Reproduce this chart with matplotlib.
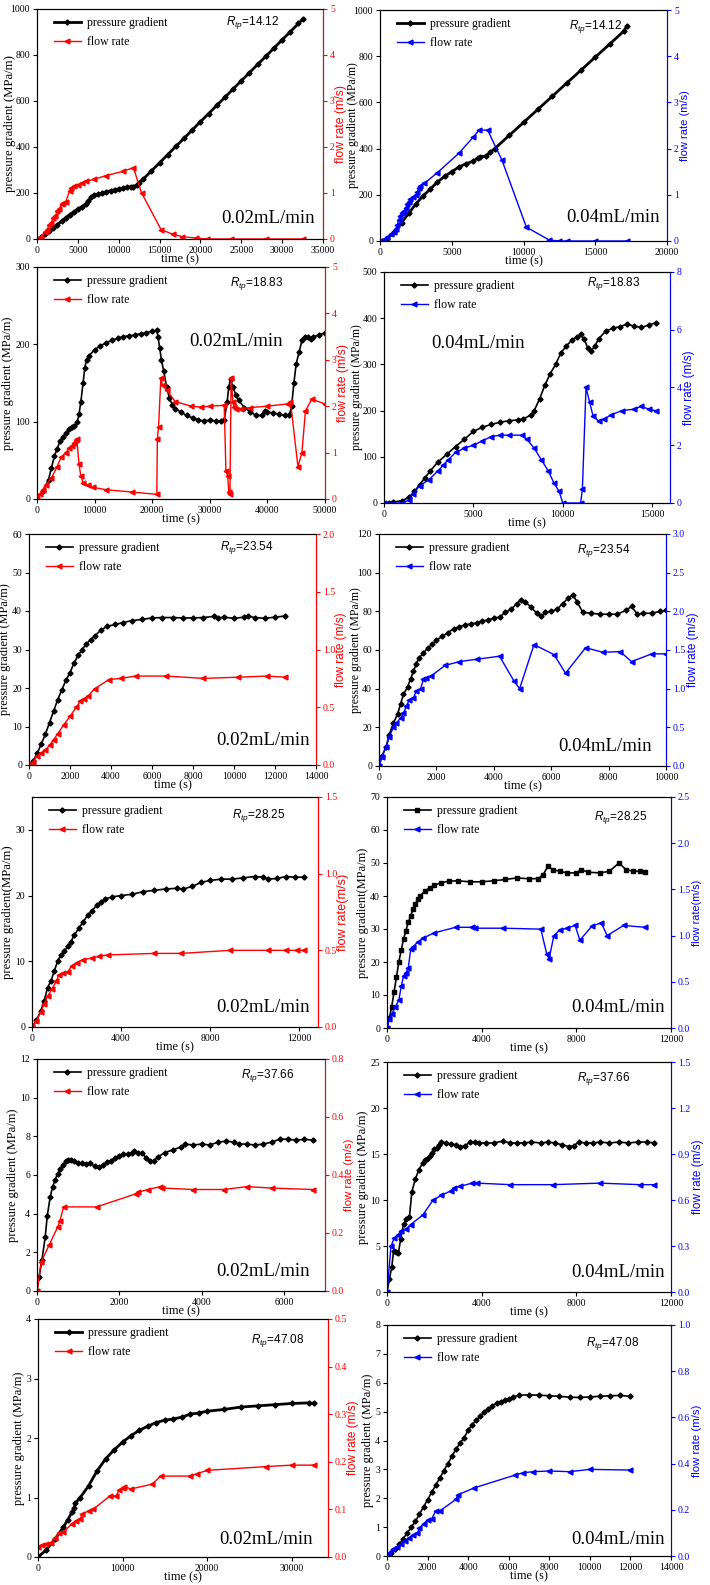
import matplotlib
matplotlib.use("Agg")
import matplotlib.pyplot as plt
from matplotlib.ticker import MultipleLocator, FormatStrFormatter

plt.rcParams['font.family'] = ['Liberation Serif', 'DejaVu Serif']
plt.rcParams['mathtext.fontset'] = 'custom'
plt.rcParams['mathtext.it'] = 'Liberation Sans:italic'
plt.rcParams['mathtext.rm'] = 'Liberation Sans'

# ---- data (time in s, pressure gradient MPa/m, flow rate m/s)
# Rtp = 14.12
t_p1 = [0,500,1000,1500,2000,2500,3000,3500,4000,4500,5000,5500,6000,6300,6600,7000,7500,8000,8500,9000,9500,10000,10500,11000,11500,11800,12200,12500,13000,
        14000,15000,16000,17000,18000,19000,20000,21000,22000,23000,24000,25000,26000,27000,28000,29000,30000,31000,32000,32500]
p1 = [0,8,20,35,50,62,78,92,106,118,130,140,152,165,182,190,195,200,205,210,214,218,221,225,227,228,235,245,260,
      296,331,367,403,438,474,510,545,581,616,652,688,723,759,794,830,866,901,937,955]
t_f1 = [0,500,1000,1200,1500,1700,2000,2200,2500,2700,3000,3200,3500,4000,4200,4500,5000,5500,6000,7000,8500,10500,11800,12800,15200,16700,17800,19500,20800,23700,28000,32500]
f1 = [0,0.05,0.15,0.2,0.3,0.35,0.45,0.5,0.6,0.65,0.75,0.78,0.8,1.05,1.1,1.15,1.18,1.22,1.25,1.3,1.38,1.47,1.55,1.0,0.2,0.1,0.05,0.02,0,0,0,0]
t_p2 = [0,500,1000,1500,2000,2500,3000,3500,4000,4500,5000,5500,6000,6500,6800,7000,7400,7700,8000,9000,10000,11000,12000,13000,14000,15000,16000,17000,17200]
p2 = [0,10,40,80,120,160,195,225,255,280,300,320,335,345,360,365,368,385,400,457,513,570,626,683,739,796,852,909,930]
t_f2 = [0,200,500,800,1000,1100,1200,1300,1400,1500,1600,1700,1800,1900,2000,2100,2300,2500,2600,2700,2800,3100,4000,5500,6500,6900,7500,8500,10200,11800,12500,13000,15000,17200]
f2 = [0,0.02,0.08,0.15,0.2,0.25,0.35,0.45,0.55,0.6,0.62,0.65,0.72,0.8,0.85,0.9,0.95,1.0,1.05,1.15,1.2,1.25,1.48,1.9,2.25,2.4,2.4,1.75,0.3,0.02,0,0,0,0]

# Rtp = 18.83
t_p3 = [0,1000,2000,2500,3000,3500,4000,4500,5000,5500,6000,6500,7000,7300,7600,8000,8300,8600,9000,10000,
        11000,12000,13000,14000,15000,16000,17000,18000,19000,20000,20800,21000,21300,21600,22000,22500,23000,23500,24000,25000,
        26000,27000,28000,29000,30000,31000,32000,32500,33000,33300,33600,34000,34500,35000,36000,37000,38000,39000,39500,40000,
        41000,42000,43000,43800,44200,44600,45000,45500,46000,46500,47000,47500,48000,49000,50000]
p3 = [0,10,25,40,55,65,75,80,85,90,93,95,100,110,125,150,170,180,185,193,
      198,202,205,208,210,211,212,214,215,217,218,210,195,180,165,145,130,122,117,112,
      108,105,102,101,102,101,101,102,125,145,155,145,135,128,118,113,108,108,114,113,
      111,110,108,108,120,150,175,190,205,210,210,207,210,212,215]
t_f3 = [0,500,1000,1500,2500,3500,4200,5000,5600,6000,6500,6700,6900,7300,7600,8000,8800,9800,12000,16500,
        20800,20900,21100,21500,21800,22500,24000,26800,28500,30000,32500,32800,33100,33300,33500,33700,34000,34200,34500,35500,
        37000,40000,43500,44000,45300,46000,46600,47700,50000]
f3 = [0,0.1,0.2,0.3,0.45,0.7,0.9,1.0,1.1,1.15,1.2,1.28,1.3,0.75,0.5,0.35,0.3,0.25,0.2,0.15,
      0.1,1.3,1.55,2.6,2.45,2.35,2.1,2.0,1.98,2.0,2.02,0.6,0.5,0.15,0.1,2.6,2.1,1.98,1.95,1.95,
      1.97,2.0,2.05,2.1,0.7,1.0,1.9,2.15,2.05]
t_p4 = [0,300,500,1000,1400,1700,2000,2300,2600,3000,3500,4000,4500,5000,5500,6000,6500,7000,7500,
        7800,8200,8400,8700,9000,9300,9600,9900,10200,10500,10800,11000,11200,11400,11600,11800,12000,12400,12800,13200,
        13600,14000,14400,14800,15200]
p4 = [0,0,2,5,12,25,40,55,70,88,105,122,138,155,164,170,175,178,180,
      182,190,200,225,255,280,300,325,340,352,360,365,355,335,330,340,355,372,378,382,
      387,383,380,385,390]
t_f4 = [0,1000,1400,1600,2000,2500,3000,3300,3600,4000,4500,5000,5500,6000,6500,7000,7700,8000,8400,8800,
        9200,9500,9800,10000,11000,11100,11300,11500,11700,12000,12300,12700,13300,14000,14400,14800,15200]
f4 = [0,0,0.1,0.3,0.6,0.8,1.1,1.3,1.5,1.75,1.9,2.0,2.15,2.3,2.35,2.35,2.35,2.2,1.9,1.5,
      1.1,0.7,0.4,0,0,0.5,4.0,3.5,3.0,2.85,2.9,3.05,3.2,3.25,3.35,3.25,3.2]

# Rtp = 23.54
t_p5 = [0,200,400,600,800,1000,1200,1400,1600,1800,2000,2200,2400,2600,2800,3000,3200,3500,3800,4200,4600,5000,5500,6000,
        6500,7000,7500,8000,8500,9000,9200,9500,10000,10500,10700,11000,11500,12000,12500]
p5 = [0,1,3,5.5,8,11,14,17,19.5,22,24,26.5,28.5,30,31.5,32.5,33.5,35,36,36.5,37,37.5,37.8,38.2,
      38.3,38.3,38.2,38.2,38.3,38.6,38.2,38.4,38.1,38.4,38.7,38.3,38.1,38.4,38.7]
t_f5 = [0,200,400,600,800,1000,1200,1400,1700,2000,2300,2500,2700,2900,3200,3900,4500,5200,6700,8500,10200,11600,12500]
f5 = [0,0.03,0.08,0.1,0.13,0.17,0.22,0.27,0.35,0.42,0.5,0.55,0.57,0.6,0.66,0.74,0.75,0.77,0.77,0.75,0.76,0.77,0.76]
t_p6 = [0,100,250,350,500,650,750,850,1000,1100,1200,1300,1400,1550,1700,1850,2000,2200,2400,2600,
        2800,3000,3200,3400,3600,3800,4000,4200,4400,4600,4800,4950,5100,5300,5500,5650,5800,6000,6200,6400,
        6600,6750,6900,7100,7400,7700,8000,8300,8600,8800,9000,9200,9500,9800,10000]
p6 = [0,5,10,16,22,27,32,37,41,45,49,53,56,58.5,61,63,65,67,69,71,
      72,73,73.5,74,75,75.5,76.5,77,79.5,81,84,86,85,82,79,77.5,79.5,80,81,84,
      87,88.5,85,79.5,79,78.5,78.5,78.5,80.5,82.5,78.5,79,79,80,80.5]
t_f6 = [0,100,250,350,500,600,750,850,950,1050,1200,1300,1450,1550,1650,1800,2300,2800,3400,4200,
        4700,4900,5400,6100,6500,7200,7800,8400,8800,9500,10000]
f6 = [0,0.12,0.25,0.37,0.5,0.55,0.62,0.68,0.77,0.85,0.88,0.97,1.0,1.12,1.14,1.16,1.3,1.35,1.38,1.42,
      1.1,1.0,1.57,1.44,1.2,1.53,1.47,1.48,1.35,1.45,1.45]

# Rtp = 28.25
t_p7 = [0,200,400,550,700,850,1000,1150,1300,1450,1600,1750,1900,2100,2300,2500,2700,2900,3100,3300,
        3600,4000,4500,5000,5500,6000,6500,6800,7200,7600,8000,8500,9000,9500,10000,10400,10600,11000,11400,11800,12200]
p7 = [0,1,2.5,4,6,7,8.5,10,11,11.5,12.3,13,14,15,16,17,17.7,18.5,19,19.5,
      19.8,20,20.2,20.6,20.8,21,21.1,21,21.4,22,22.3,22.5,22.5,22.7,22.9,22.8,22.5,22.6,22.9,22.8,22.8]
t_f7 = [0,200,400,550,700,900,1100,1200,1400,1600,1800,2000,2300,2700,3000,3400,5500,6700,8900,10600,11400,11900,12200]
f7 = [0,0.04,0.1,0.15,0.2,0.25,0.3,0.34,0.35,0.36,0.4,0.42,0.44,0.45,0.46,0.47,0.48,0.48,0.5,0.5,0.5,0.5,0.5]
t_p8 = [0,100,200,300,400,500,600,700,800,900,1000,1100,1200,1300,1400,1600,1800,2000,2300,2600,
        3000,3500,4000,4500,5000,5500,6000,6400,6600,6800,7000,7300,7600,8000,8200,8500,9000,9400,9800,10100,10400,10700,10900]
p8 = [0,3,6.5,11,15.5,20,23.5,27,29.5,32,34,36,37.5,39,40,41.5,42.5,43.3,44,44.5,
      44.6,44.3,44.3,44.6,45,45.5,45.2,45.3,46.5,49,48,47.5,47,47,48,47.2,47,47.5,50,48,47.5,47.5,47.2]
t_f8 = [0,100,200,350,500,600,700,800,900,1000,1100,1300,1500,2000,2900,3600,3700,4900,6500,6750,
        6850,7050,7300,7600,7950,8150,8650,9050,9300,10000,10900]
f8 = [0,0.1,0.15,0.23,0.3,0.45,0.56,0.6,0.65,0.85,0.88,0.93,0.97,1.03,1.09,1.09,1.08,1.08,1.07,0.8,
      0.75,1.0,1.06,1.08,1.11,0.95,1.1,1.14,1.0,1.11,1.09]

# Rtp = 37.66
t_p9 = [0,50,120,200,250,320,380,440,500,560,620,700,760,820,900,1000,1100,1200,1300,1400,
        1500,1600,1700,1800,1900,2000,2100,2200,2300,2350,2450,2550,2650,2750,2850,2950,3100,3300,3500,3600,
        3800,4000,4200,4400,4600,4800,4900,5100,5300,5500,5700,5900,6100,6300,6500,6700]
p9 = [0,0.7,1.6,2.8,3.9,4.85,5.4,5.75,6.05,6.3,6.5,6.7,6.8,6.8,6.7,6.6,6.6,6.55,6.6,6.45,
      6.4,6.5,6.65,6.75,6.9,7.0,7.1,7.1,7.15,7.25,7.15,7.15,6.9,6.7,6.75,6.95,7.15,7.3,7.45,7.6,
      7.55,7.6,7.55,7.7,7.75,7.7,7.6,7.6,7.55,7.6,7.7,7.85,7.85,7.8,7.85,7.8]
t_f9 = [0,100,300,500,550,650,1450,2400,2450,2700,3000,3050,3800,4550,5100,5700,6700]
f9 = [0,0.1,0.16,0.22,0.24,0.29,0.29,0.335,0.34,0.35,0.36,0.355,0.35,0.35,0.36,0.355,0.35]
t_p10 = [0,100,200,280,380,480,580,700,820,950,1050,1200,1350,1500,1600,1700,1800,1900,2000,2100,
         2200,2300,2500,2700,2900,3100,3300,3500,3700,3900,4200,4500,4900,5200,5500,5800,6100,6500,6800,7100,
         7400,7700,7900,8100,8400,8700,9000,9400,9800,10200,10600,11000,11300]
p10 = [0,1.4,2.7,4.5,4.4,4.2,5.8,7.4,7.9,8.2,10.9,12.3,13.3,14,14.3,14.5,14.8,15.1,15.5,15.7,
       16,16.3,16.2,16.1,16,15.8,15.9,16.3,16.3,16.2,16.2,16.2,16.4,16.2,16.2,16.2,16.3,16.2,16.3,16.2,
       16,15.8,15.9,16.3,16.2,16.2,16.3,16.2,16.3,16.2,16.3,16.3,16.2]
t_f10 = [0,170,300,450,600,800,1000,1500,1950,2300,2700,2850,3100,3600,3800,5200,7000,9000,10700,11300]
f10 = [0,0.3,0.35,0.37,0.4,0.41,0.44,0.5,0.6,0.63,0.66,0.68,0.69,0.71,0.71,0.7,0.7,0.71,0.7,0.7]

# Rtp = 47.08
t_p11 = [0,1000,2000,3000,3500,4000,4300,4400,5000,6000,7000,8000,9000,10000,11000,12000,13000,14000,15000,16000,
         17000,18000,19000,20000,22000,24000,26000,28000,30000,32000,32700]
p11 = [0,0.12,0.3,0.5,0.62,0.75,0.83,0.9,1.0,1.2,1.45,1.65,1.8,1.93,2.04,2.13,2.2,2.26,2.3,2.32,
       2.35,2.4,2.42,2.45,2.48,2.52,2.54,2.56,2.58,2.59,2.58]
t_f11 = [0,500,1000,1500,2000,2500,3000,4000,4500,5000,5200,6000,6500,8500,9200,9600,10000,10200,11000,13500,
         14500,18000,18800,20000,27000,30000,32700]
f11 = [0.02,0.025,0.027,0.03,0.04,0.05,0.052,0.07,0.075,0.08,0.09,0.097,0.1,0.128,0.128,0.14,0.145,0.148,0.143,0.153,
       0.17,0.17,0.175,0.182,0.19,0.193,0.193]
t_p12 = [0,200,400,600,800,1000,1200,1400,1600,1800,2000,2200,2400,2600,2800,3000,3200,3400,3600,3800,
         4000,4200,4400,4600,4800,5000,5200,5400,5600,5800,6000,6200,6500,7000,7500,8000,8500,9000,9500,10000,
         10500,11000,11500,12000]
p12 = [0,0.1,0.25,0.4,0.6,0.8,1.0,1.2,1.45,1.7,1.95,2.2,2.45,2.7,2.95,3.2,3.45,3.7,3.9,4.1,
       4.35,4.55,4.7,4.85,5.0,5.1,5.2,5.3,5.35,5.4,5.45,5.5,5.57,5.58,5.57,5.55,5.53,5.5,5.49,5.51,
       5.53,5.55,5.56,5.53]
t_f12 = [0,100,300,500,700,900,1100,1300,1500,1600,1800,2000,2200,2400,2600,3400,3500,4300,6300,6700,7200,8000,9000,10000,12000]
f12 = [0,0.015,0.03,0.04,0.05,0.065,0.08,0.09,0.1,0.12,0.14,0.155,0.16,0.195,0.195,0.245,0.265,0.295,0.35,0.36,0.365,0.368,0.365,0.375,0.372]

rtp_labels = ['14.12', '14.12', '18.83', '18.83', '23.54', '23.54', '28.25', '28.25', '37.66', '37.66', '47.08', '47.08']
rates = ['0.02mL/min', '0.04mL/min'] * 6

W, H = 710, 1585
fig = plt.figure(figsize=(W / 100, H / 100), dpi=100)

# pixel boxes of the twelve plots: x1, x2, y_top, y_bottom
boxes = [(37, 323, 9, 239), (380, 667, 10, 241), (37, 325, 267, 499), (384, 670, 272, 503),
         (29, 316, 534, 765), (379, 666, 534, 766), (32, 318, 797, 1027), (387, 671, 797, 1028),
         (37, 325, 1059, 1291), (387, 671, 1062, 1292), (38, 328, 1319, 1557), (387, 671, 1325, 1556)]
lsize = [9.2, 8.5, 9, 8.5, 8.8, 8.5, 9.2, 9, 9, 9, 9, 9]
rsize = [8.8, 8, 8.8, 8.5, 8.5, 8.5, 9.2, 7.8, 8.2, 8.5, 8.5, 8.2]
# px from the axis to the right edge of the left label, where the widest tick label is above it
lcoord = [21, 21, None, 21, None, 17, None, None, None, None, None, None]

panels = [
    dict(xl=35000, xs=5000, yl=1000, ys=200, rl=5, rs=1, rf='%d', rtp=(0.66, 0.94), rt=(0.97, 0.09, 'right')),
    dict(xl=20000, xs=5000, yl=1000, ys=200, rl=5, rs=1, rf='%d', rtp=(0.66, 0.93), rt=(0.975, 0.10, 'right')),
    dict(xl=50000, xs=10000, yl=300, ys=100, rl=5, rs=1, rf='%d', rtp=(0.67, 0.93), rt=(0.53, 0.68, 'left')),
    dict(xl=16000, xs=5000, yl=500, ys=100, rl=8, rs=2, rf='%d', rtp=(0.71, 0.95), rt=(0.165, 0.69, 'left')),
    dict(xl=14000, xs=2000, yl=60, ys=10, rl=2.0, rs=0.5, rf='%.1f', rtp=(0.667, 0.94), rt=(0.98, 0.108, 'right')),
    dict(xl=10000, xs=2000, yl=120, ys=20, rl=3.0, rs=0.5, rf='%.1f', rtp=(0.69, 0.93), rt=(0.95, 0.085, 'right')),
    dict(xl=12850, xs=4000, yl=35, ys=10, rl=1.5, rs=0.5, rf='%.1f', rtp=(0.70, 0.92), rt=(0.97, 0.083, 'right')),
    dict(xl=12000, xs=4000, yl=70, ys=10, rl=2.5, rs=0.5, rf='%.1f', rtp=(0.73, 0.91), rt=(0.98, 0.087, 'right')),
    dict(xl=7000, xs=2000, yl=12, ys=2, rl=0.8, rs=0.2, rf='%.1f', rtp=(0.707, 0.93), rt=(0.948, 0.085, 'right')),
    dict(xl=12000, xs=4000, yl=25, ys=5, rl=1.5, rs=0.3, rf='%.1f', rtp=(0.67, 0.93), rt=(0.98, 0.083, 'right')),
    dict(xl=34300, xs=10000, yl=4, ys=1, rl=0.5, rs=0.1, rf='%.1f', rtp=(0.733, 0.91), rt=(0.948, 0.073, 'right')),
    dict(xl=14000, xs=2000, yl=8, ys=1, rl=1.0, rs=0.2, rf='%.1f', rtp=(0.70, 0.92), rt=(0.98, 0.072, 'right')),
]

series = [(t_p1, p1, t_f1, f1), (t_p2, p2, t_f2, f2), (t_p3, p3, t_f3, f3), (t_p4, p4, t_f4, f4),
          (t_p5, p5, t_f5, f5), (t_p6, p6, t_f6, f6), (t_p7, p7, t_f7, f7), (t_p8, p8, t_f8, f8),
          (t_p9, p9, t_f9, f9), (t_p10, p10, t_f10, f10), (t_p11, p11, t_f11, f11), (t_p12, p12, t_f12, f12)]

for i, (cfg, (tp, p, tf, f)) in enumerate(zip(panels, series)):
    col = '#ff0000' if i % 2 == 0 else '#0000ff'
    x1, x2, y1, y2 = boxes[i]
    ax = fig.add_axes([x1 / W, 1 - y2 / H, (x2 - x1) / W, (y2 - y1) / H])
    ax2 = ax.twinx()
    lw_p = 2.0 if i < 2 or i == 10 else 1.2
    mk = 's' if i == 7 else 'D'
    l1, = ax.plot(tp, p, color='black', marker=mk, markersize=2.6, lw=lw_p)
    l2, = ax2.plot(tf, f, color=col, marker='<', markersize=3.5, lw=1.0)

    ax.set_xlim(0, cfg['xl'])
    ax.set_ylim(0, cfg['yl'])
    ax2.set_ylim(0, cfg['rl'])
    ax.xaxis.set_major_locator(MultipleLocator(cfg['xs']))
    ax.yaxis.set_major_locator(MultipleLocator(cfg['ys']))
    ax2.yaxis.set_major_locator(MultipleLocator(cfg['rs']))
    ax2.yaxis.set_major_formatter(FormatStrFormatter(cfg['rf']))

    ax.tick_params(labelsize=7, length=3, width=0.8, direction='out', pad=2)
    ax2.tick_params(labelsize=7, length=3, width=0.8, direction='out', colors=col, pad=2)
    ax2.spines['right'].set_color(col)

    sep = '' if i in (6, 7) else ' '
    ax.set_xlabel('time (s)', fontsize=8.8, labelpad=-1)
    ax.set_ylabel('pressure gradient' + sep + '(MPa/m)', fontsize=lsize[i], labelpad=1)
    if lcoord[i]:
        ax.yaxis.set_label_coords(-lcoord[i] / (x2 - x1), 0.5)
    ax2.set_ylabel('flow rate' + sep + '(m/s)', fontsize=rsize[i], color=col,
                   labelpad=0 if i % 2 == 0 else 1, family=['Liberation Sans', 'DejaVu Sans'])

    ax.legend([l1, l2], ['pressure gradient', 'flow rate'], loc='upper left', bbox_to_anchor=(0.03, 1.0),
              frameon=False, fontsize=8.5, handlelength=2.3, handletextpad=0.5,
              labelspacing=0.55, borderaxespad=0.3)
    ax.text(cfg['rtp'][0], cfg['rtp'][1], '$R_{tp}$=' + rtp_labels[i], transform=ax.transAxes,
            fontsize=8.5, va='center', ha='left', family=['Liberation Sans', 'DejaVu Sans'])
    rx, ry, rha = cfg['rt']
    ax.text(rx, ry, rates[i], transform=ax.transAxes, fontsize=13.5, va='center', ha=rha)

fig.savefig('out.png', dpi=100)
